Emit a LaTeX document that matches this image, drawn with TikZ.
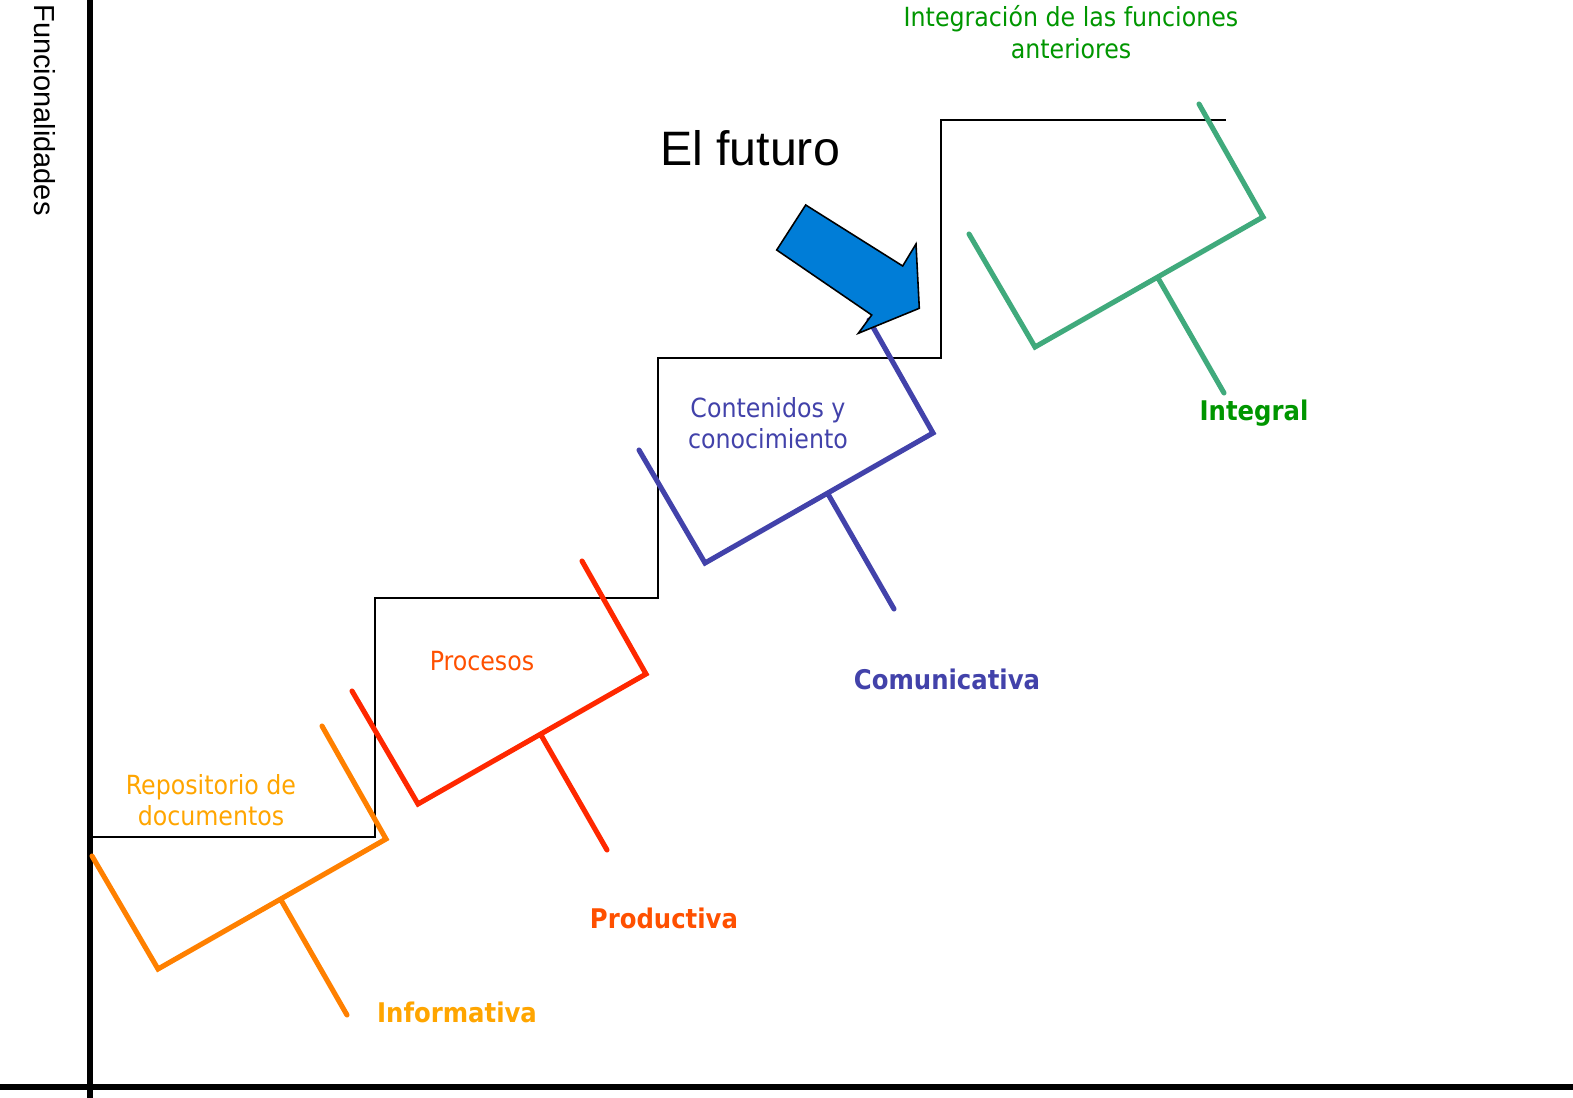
\documentclass[tikz,border=0pt]{standalone}
\usepackage{fontspec}
\setmainfont{DejaVu Sans Condensed}
\newfontfamily\arialfont{Liberation Sans}
\definecolor{orangeline}{RGB}{255,128,0}
\definecolor{orangetext}{RGB}{255,165,0}
\definecolor{redline}{RGB}{255,40,0}
\definecolor{redtext}{RGB}{255,80,0}
\definecolor{blueline}{RGB}{66,66,170}
\definecolor{greenline}{RGB}{64,170,124}
\definecolor{greentext}{RGB}{0,150,0}
\definecolor{arrowblue}{RGB}{0,125,215}
\tikzset{
  bracket/.style={line width=2.9pt, line cap=round},
  level/.style={font=\fontsize{15}{18}\selectfont, align=center},
  kind/.style={font=\fontsize{15.4}{18}\selectfont\bfseries}
}
\begin{document}
\begin{tikzpicture}[x=0.02cm,y=-0.02cm]
\useasboundingbox (0,0) rectangle (1573,1098);
% axes
\draw[line width=3pt] (90,0) -- (90,1098);
\draw[line width=3pt] (0,1087) -- (1573,1087);
\node[rotate=-90, font=\arialfont\fontsize{16.5}{19}\selectfont] (ylabel) at (45,110) {Funcionalidades};
% steps
\draw[line width=1.2pt] (92,837) -- (375,837) -- (375,598) -- (658,598) -- (658,358) -- (941,358) -- (941,120) -- (1226,120);
% brackets
\foreach \bx/\by/\col in {158/969/orangeline, 418/804/redline, 705/563/blueline, 1035/347/greenline}
\draw[bracket, \col] (\bx-66,\by-113) -- (\bx,\by) -- (\bx+228,\by-130) -- (\bx+164,\by-243)
  (\bx+123,\by-69) -- (\bx+189,\by+46);
% labels
\node[level, orangetext] (repo) at (211,800) {Repositorio de\\documentos};
\node[level, redtext] (proc) at (482,661) {Procesos};
\node[level, blueline] (cont) at (768,423) {Contenidos y\\conocimiento};
\node[level, greentext] (integ) at (1071,32) {Integración de las funciones\\anteriores};
\node[kind, orangetext] (info) at (457,1012) {Informativa};
\node[kind, redtext] (prod) at (664,918) {Productiva};
\node[kind, blueline] (comu) at (947,679) {Comunicativa};
\node[kind, greentext] (intl) at (1254,413) {Integral};
\node[font=\arialfont\fontsize{27.5}{32}\selectfont] (futuro) at (750,148) {El futuro};
% arrow
\filldraw[fill=arrowblue, draw=black, line width=0.9pt, line join=miter] (805.7,205) -- (776.7,250) -- (871.7,315) -- (858.3,333.3) -- (919.3,308.3) -- (916,244) -- (902.7,266) -- cycle;
\end{tikzpicture}
\end{document}
